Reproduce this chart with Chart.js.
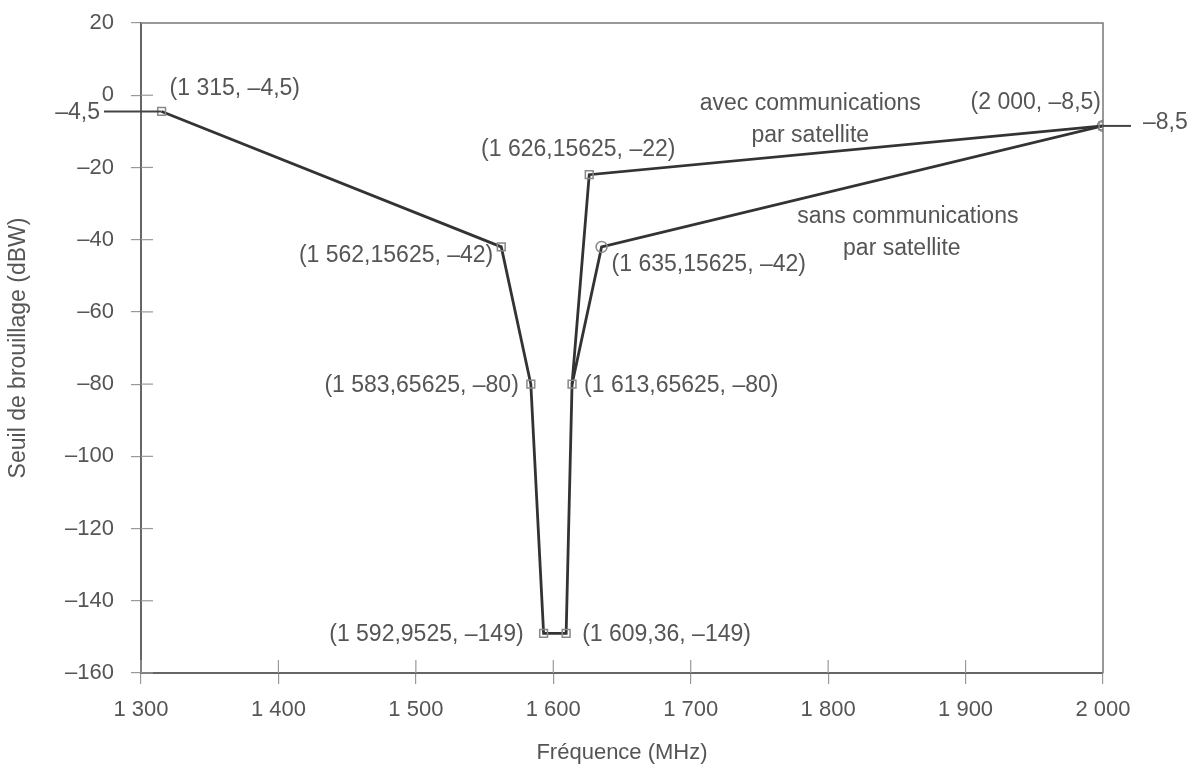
<!DOCTYPE html>
<html><head><meta charset="utf-8">
<script src="https://cdn.jsdelivr.net/npm/chart.js@4/dist/chart.umd.min.js"></script>
<style>html,body{margin:0;padding:0;background:#fff}#wrap{width:1199px;height:769px}</style>
</head><body><div id="wrap"><canvas id="c" width="1199" height="769"></canvas></div>
<script>
// ---- data ----
const xTickValues = [1300, 1400, 1500, 1600, 1700, 1800, 1900, 2000];
const yTickValues = [20, 0, -20, -40, -60, -80, -100, -120, -140, -160];
const avecX = [1315, 1562.15625, 1583.65625, 1592.9525, 1609.36, 1613.65625, 1626.15625, 2000];
const avecY = [-4.5, -42, -80, -149, -149, -80, -22, -8.5];
const sansX = [1613.65625, 1635.15625, 2000];
const sansY = [-80, -42, -8.5];
const pointLabels = ["(1 315, \u20134,5)", "(1 562,15625, \u201342)", "(1 583,65625, \u201380)", "(1 592,9525, \u2013149)",
  "(1 609,36, \u2013149)", "(1 613,65625, \u201380)", "(1 626,15625, \u201322)", "(2 000, \u20138,5)"];
const sansLabels = [null, "(1 635,15625, \u201342)", null];
const seriesNames = [["avec communications", "par satellite"], ["sans communications", "par satellite"]];
const seriesNameAt = [[1787, -2.2], [1858, -33.7]];
const edgeValues = [-4.5, -8.5];
const edgeLabels = ["\u20134,5", "\u20138,5"];
const xTitle = "Fréquence (MHz)";
const yTitle = "Seuil de brouillage (dBW)";

const FONT = "'Liberation Sans', Arial, sans-serif";
const TXT = '#555';
const fmt = v => {
  const neg = v < 0; let a = Math.abs(v);
  let s = a >= 1000 ? Math.floor(a / 1000) + ' ' + String(a % 1000).padStart(3, '0') : String(a);
  return (neg ? '\u2013' : '') + s;
};

// label placement (pixel offsets from point), styles kept out of data arrays
const avecLabelPos = [[8, -23, 'left'], [-8, 9, 'right'], [-12, 2, 'right'], [-20, 1, 'right'],
  [16, 1, 'left'], [12, 2, 'left'], [-11, -25, 'center'], [-2, -23, 'right']];
const sansLabelPos = [null, [10, 18, 'left'], null];

const overlay = {
  id: 'overlay',
  afterDraw(chart) {
    const ctx = chart.ctx, a = chart.chartArea, xs = chart.scales.x, ys = chart.scales.y;
    ctx.save();
    // frame top/right
    ctx.strokeStyle = '#777'; ctx.lineWidth = 1.5;
    ctx.beginPath(); ctx.moveTo(a.left, a.top); ctx.lineTo(a.right, a.top); ctx.lineTo(a.right, a.bottom); ctx.stroke();
    // inner tick marks
    ctx.strokeStyle = '#999'; ctx.lineWidth = 1.2;
    yTickValues.forEach(v => { const y = ys.getPixelForValue(v); ctx.beginPath(); ctx.moveTo(a.left, y); ctx.lineTo(a.left + 12, y); ctx.stroke(); });
    xTickValues.forEach(v => { const x = xs.getPixelForValue(v); ctx.beginPath(); ctx.moveTo(x, a.bottom); ctx.lineTo(x, a.bottom - 13); ctx.stroke(); });
    // edge lines
    ctx.strokeStyle = '#444'; ctx.lineWidth = 2;
    const y1 = ys.getPixelForValue(edgeValues[0]);
    ctx.beginPath(); ctx.moveTo(a.left - 37, y1); ctx.lineTo(xs.getPixelForValue(avecX[0]), y1); ctx.stroke();
    const y2 = ys.getPixelForValue(edgeValues[1]);
    ctx.beginPath(); ctx.moveTo(a.right, y2); ctx.lineTo(a.right + 28, y2); ctx.stroke();
    ctx.fillStyle = TXT; ctx.font = '23px ' + FONT; ctx.textBaseline = 'middle';
    ctx.textAlign = 'right'; ctx.fillText(edgeLabels[0], a.left - 41, y1 + 1);
    ctx.textAlign = 'left'; ctx.fillText(edgeLabels[1], a.right + 40, y2 - 3);
    // point labels
    const put = (xv, yv, txt, p) => {
      if (!txt || !p) return;
      ctx.textAlign = p[2];
      ctx.fillText(txt, xs.getPixelForValue(xv) + p[0], ys.getPixelForValue(yv) + p[1]);
    };
    avecX.forEach((xv, i) => put(xv, avecY[i], pointLabels[i], avecLabelPos[i]));
    sansX.forEach((xv, i) => put(xv, sansY[i], sansLabels[i], sansLabelPos[i]));
    // series names
    ctx.textAlign = 'center';
    seriesNames.forEach((lines, i) => {
      const cx = xs.getPixelForValue(seriesNameAt[i][0]), cy = ys.getPixelForValue(seriesNameAt[i][1]);
      lines.forEach((t, j) => ctx.fillText(t, cx + (i === 1 && j === 1 ? -6 : 0), cy + j * 32));
    });
    ctx.restore();
  }
};

const lineStyle = { borderColor: '#333', borderWidth: 2.8, showLine: true, tension: 0,
  pointStyle: 'rect', pointRadius: 5.5, pointBorderColor: '#888', pointBorderWidth: 1.5,
  pointBackgroundColor: 'rgba(255,255,255,0)' };

new Chart(document.getElementById('c'), {
  type: 'scatter',
  data: {
    datasets: [
      Object.assign({ label: seriesNames[0].join(' '), data: avecX.map((x, i) => ({ x, y: avecY[i] })) }, lineStyle),
      Object.assign({ label: seriesNames[1].join(' '), data: sansX.map((x, i) => ({ x, y: sansY[i] })) }, lineStyle,
        { pointStyle: 'circle', pointRadius: [0, 5.5, 5.5] })
    ]
  },
  options: {
    responsive: false, animation: false,
    layout: { padding: { top: 23, right: 96, left: 0, bottom: 0 } },
    plugins: { legend: { display: false }, tooltip: { enabled: false } },
    scales: {
      x: {
        type: 'linear', min: 1300, max: 2000,
        afterBuildTicks: s => { s.ticks = xTickValues.map(v => ({ value: v })); },
        afterFit: s => { s.height = 96; s.paddingLeft = 0; s.paddingRight = 0; },
        grid: { drawOnChartArea: false, drawTicks: true, tickLength: 11, color: '#999', lineWidth: 1.2 },
        border: { display: true, color: '#666', width: 2 },
        ticks: { callback: v => fmt(v), color: TXT, font: { family: FONT, size: 22 }, padding: 13, maxRotation: 0 },
        title: { display: true, text: xTitle, color: TXT, font: { family: FONT, size: 22 }, padding: { top: 0, bottom: 3 } }
      },
      y: {
        type: 'linear', min: -160, max: 20,
        afterBuildTicks: s => { s.ticks = yTickValues.map(v => ({ value: v })); },
        afterFit: s => { s.width = 141; s.paddingTop = 0; s.paddingBottom = 0; },
        grid: { drawOnChartArea: false, drawTicks: true, tickLength: 10, color: '#999', lineWidth: 1.2 },
        border: { display: true, color: '#666', width: 2 },
        ticks: { callback: v => fmt(v), color: TXT, font: { family: FONT, size: 22 }, padding: 17 },
        title: { display: true, text: yTitle, color: TXT, font: { family: FONT, size: 23 }, padding: { top: 5, bottom: 0 } }
      }
    }
  },
  plugins: [overlay]
});
</script></body></html>
